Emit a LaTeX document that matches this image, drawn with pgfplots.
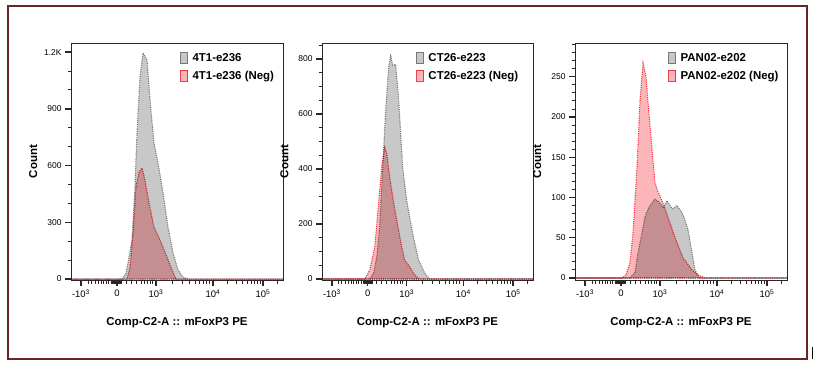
\documentclass[border=0pt]{standalone}
\usepackage{pgfplots}
\pgfplotsset{compat=1.18}
\usepackage{fontspec}
\setmainfont{Liberation Sans}
\newfontfamily\sfx{Liberation Sans}

\definecolor{frameR}{RGB}{110,35,35}
\definecolor{grayF}{RGB}{200,200,200}
\definecolor{grayL}{RGB}{120,120,120}
\definecolor{pinkF}{RGB}{252,182,186}
\definecolor{redL}{RGB}{240,70,80}
\definecolor{axC}{RGB}{40,40,40}

\pgfplotsset{
 flowax/.style={
   scale only axis, height=237bp, anchor=south west,
   xmin=0, xmax=212, axis on top,
   axis line style={axC, line width=0.9bp},
   xtick={10,46,85,142,192},
   xticklabels={-10\textsuperscript{3},0,10\textsuperscript{3},10\textsuperscript{4},10\textsuperscript{5}},
   minor xtick={17,20,24,27,30,32,35,37,40,41.5,42.3,43,43.7,44.4,45.2,46.8,47.5,48.3,49,49.8,50.6,55,60,65,70,73,76,79,81,101,111,118,124,128,132,135,138,156,165,171,176,180,183,186,189,206},
   xtick pos=bottom, ytick pos=left, tick align=outside,
   major tick length=6bp, minor tick length=3.5bp,
   every major tick/.style={axC, line width=1.4bp},
   every minor tick/.style={axC, line width=0.9bp},
   tick label style={font=\sfx\fontsize{8.5}{10}\selectfont, text=black},
   x tick label style={font=\sfx\fontsize{9.5}{11}\selectfont},
   xlabel={Comp-C2-A :: mFoxP3 PE}, ylabel={Count},
   label style={font=\sfx\bfseries\fontsize{11.5}{13}\selectfont},
   x label style={at={(axis description cs:0.5,-0.181)}, anchor=center},
   y label style={at={(axis description cs:-0.178,0.5)}, anchor=center, rotate=0},
   legend style={draw=none, fill=none, font=\sfx\bfseries\fontsize{11.5}{13}\selectfont,
     anchor=north west, inner sep=0pt, row sep=4bp},
   legend cell align=left,
 },
 gcurve/.style={draw=grayL, fill=grayF, line width=1.1bp, dash pattern=on 1.1bp off 1.1bp,
   legend image code/.code={\path[draw=grayL, fill=grayF, line width=0.8bp, solid] (0bp,-5.5bp) rectangle (7bp,5.5bp); \path[draw=none, fill=none] (0bp,0bp) rectangle (10bp,0.1bp);}},
 rcurve/.style={draw=redL, fill=pinkF, blend mode=multiply, line width=1.1bp, dash pattern=on 1.1bp off 1.1bp,
   legend image code/.code={\path[draw=redL, fill=pinkF, line width=0.8bp, solid] (0bp,-5.5bp) rectangle (7bp,5.5bp); \path[draw=none, fill=none] (0bp,0bp) rectangle (10bp,0.1bp);}},
}

\begin{document}
\begin{tikzpicture}[x=1bp,y=1bp]
\path[use as bounding box] (0,0) rectangle (813,364);
\draw[frameR, line width=1.3bp] (8,358) rectangle (807,5);
\draw[black, line width=1bp] (812,17) -- (812,5);

% Panel 1
\begin{axis}[flowax, at={(71bp,84bp)}, width=212bp,
  ymin=-5, ymax=1248,
  ytick={0,300,600,900,1200}, yticklabels={0,300,600,900,1.2K},
  minor ytick={100,200,400,500,700,800,1000,1100},
  legend style={at={(axis description cs:0.514,0.966)}}]
\addplot[gcurve] coordinates {(0,0) (51,0) (55,30) (57,85) (61,206) (64,487) (66,772) (69,1068) (72,1195) (76,1158) (79,947) (83,720) (87,614) (92,455) (97,275) (102,138) (107,48) (112,10) (117,0) (212,0)} \closedcycle;
\addlegendentry{4T1-e236}
\addplot[rcurve] coordinates {(0,0) (56,0) (59,63) (62,243) (65,487) (68,566) (71,587) (74,524) (78,402) (83,275) (89,206) (96,116) (101,48) (105,0) (212,0)} \closedcycle;
\addlegendentry{4T1-e236 (Neg)}
\end{axis}

% Panel 2
\begin{axis}[flowax, at={(322bp,84bp)}, width=211bp,
  ymin=-3.6, ymax=858,
  ytick={0,200,400,600,800}, yticklabels={0,200,400,600,800},
  minor ytick={50,100,150,250,300,350,450,500,550,650,700,750,850},
  legend style={at={(axis description cs:0.445,0.966)}}]
\addplot[gcurve] coordinates {(0,0) (48,0) (52,22) (55,80) (58,190) (61,407) (64,614) (67,771) (69,811) (71,778) (74,780) (77,651) (81,408) (85,287) (91,166) (97,69) (103,22) (108,0) (212,0)} \closedcycle;
\addlegendentry{CT26-e223}
\addplot[rcurve] coordinates {(0,0) (43,0) (48,33) (53,118) (56,239) (60,409) (63,479) (65,457) (68,372) (71,299) (75,215) (80,118) (83,69) (88,45) (93,15) (98,0) (212,0)} \closedcycle;
\addlegendentry{CT26-e223 (Neg)}
\end{axis}

% Panel 3
\begin{axis}[flowax, at={(575bp,84bp)}, width=212bp,
  ymin=-2.5, ymax=292,
  ytick={0,50,100,150,200,250}, yticklabels={0,50,100,150,200,250},
  minor ytick={10,20,...,290},
  legend style={at={(axis description cs:0.439,0.966)}}]
\addplot[gcurve] coordinates {(0,0) (55,0) (60,7) (63,31) (67,56) (70,76) (74,88) (80,98) (85,93) (88,87) (92,96) (96,88) (98,86) (102,90) (107,81) (110,72) (113,60) (117,31) (120,10) (124,0) (212,0)} \closedcycle;
\addlegendentry{PAN02-e202}
\addplot[rcurve] coordinates {(0,0) (47,0) (51,4) (55,19) (58,56) (62,138) (65,221) (68,267) (71,250) (75,188) (80,118) (83,107) (88,93) (95,68) (101,47) (108,25) (117,10) (124,3) (130,0) (212,0)} \closedcycle;
\addlegendentry{PAN02-e202 (Neg)}
\end{axis}
\end{tikzpicture}
\end{document}
